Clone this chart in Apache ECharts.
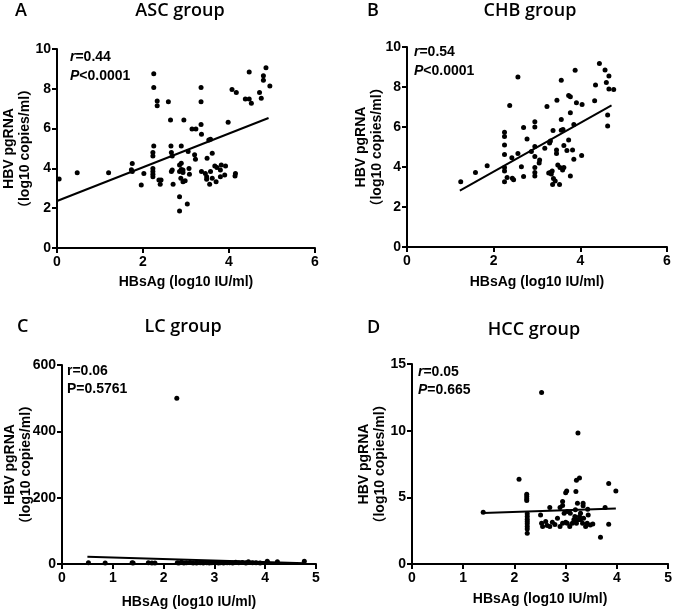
<!DOCTYPE html>
<html>
<head>
<meta charset="utf-8">
<script src="https://cdn.jsdelivr.net/npm/echarts@6/dist/echarts.min.js"></script>
<style>
html,body{margin:0;padding:0;background:#fff;}
#main{width:675px;height:613px;}
</style>
</head>
<body>
<div id="main"></div>
<script>
// ---------- DATA ----------
const panelTitles = ['ASC group', 'CHB group', 'LC group', 'HCC group'];
const panelLetters = ['A', 'B', 'C', 'D'];
const xAxisName = 'HBsAg (log10 IU/ml)';
const yAxisName = 'HBV pgRNA\n（log10 copies/ml）';
const statR = ['0.44', '0.54', '0.06', '0.05'];
const statP = ['<0.0001', '<0.0001', '=0.5761', '=0.665'];

const xMaxes = [6, 6, 5, 5];
const xIntervals = [2, 2, 1, 1];
const yMaxes = [10, 10, 600, 15];
const yIntervals = [2, 2, 200, 5];

const ascPoints = [[0.05,3.47],[0.47,3.78],[1.20,3.78],[1.73,3.93],[1.75,3.85],[1.75,4.25],[1.96,3.17],[2.02,3.75],
[2.25,8.76],[2.25,8.06],[2.33,7.39],[2.33,7.15],[2.25,5.12],[2.23,4.80],[2.23,4.62],[2.23,4.00],[2.23,3.84],[2.23,3.70],[2.23,3.58],
[2.37,3.42],[2.42,3.42],[2.40,3.20],[2.59,7.35],[2.64,6.43],[2.65,5.12],[2.66,4.80],[2.68,4.62],[2.68,3.92],[2.66,3.84],[2.70,3.20],
[2.89,5.12],[2.89,4.26],[2.85,4.17],[2.85,3.84],[2.89,3.95],[2.93,3.92],[2.93,3.79],[2.95,6.43],[3.05,4.85],[3.07,4.00],[3.08,3.70],
[2.88,3.50],[2.93,3.33],[2.98,3.38],[2.85,2.58],[3.03,2.21],[2.85,1.86],[3.14,5.98],[3.23,5.98],[3.20,4.68],[3.22,4.46],
[3.35,8.06],[3.35,7.35],[3.35,6.20],[3.36,5.71],[3.36,3.84],[3.45,3.75],[3.49,4.51],[3.61,4.76],[3.48,3.58],[3.48,3.45],
[3.53,5.43],[3.57,5.46],[3.57,3.84],[3.55,3.20],[3.67,4.12],[3.72,4.05],[3.82,4.17],[3.92,4.12],[3.61,3.50],[3.70,3.33],
[3.80,3.92],[3.80,3.58],[3.90,3.67],[4.15,3.75],[4.14,3.62],[3.98,6.32],[4.07,7.97],[4.17,7.82],[4.47,8.84],[4.38,7.49],
[4.47,7.49],[4.52,7.27],[4.71,7.82],[4.75,7.52],[4.80,8.66],[4.80,8.43],[4.86,9.06],[4.95,8.14]];
const ascFit = [[0,2.36],[4.92,6.53]];

const chbPoints = [[1.24,3.26],[1.58,3.73],[1.85,4.06],[2.25,5.74],[2.25,5.53],[2.25,5.10],[2.25,4.62],[2.25,3.97],[2.25,3.80],
[2.25,3.26],[2.31,3.47],[2.43,3.44],[2.46,3.36],[2.37,7.07],[2.42,4.46],[2.56,4.68],[2.56,8.50],[2.64,4.01],[2.69,3.52],
[2.69,5.97],[2.77,5.40],[2.87,4.77],[2.95,6.26],[2.95,6.00],[2.95,5.02],[2.95,4.52],[2.95,3.97],[2.95,3.72],[2.95,3.55],
[3.06,4.35],[3.05,4.20],[3.18,4.94],[3.23,7.02],[3.29,5.20],[3.31,5.30],[3.27,3.70],[3.31,3.73],[3.35,3.80],[3.33,3.65],
[3.38,3.43],[3.42,3.30],[3.36,3.13],[3.52,3.13],[3.37,5.82],[3.46,7.34],[3.45,4.85],[3.45,4.68],[3.56,6.38],[3.56,5.84],
[3.60,5.88],[3.62,5.08],[3.53,3.98],[3.59,3.85],[3.62,3.97],[3.48,4.10],[3.69,4.82],[3.73,7.58],[3.77,7.51],[3.77,6.71],
[3.73,5.35],[3.77,3.55],[3.82,4.85],[3.85,6.13],[3.85,4.39],[3.91,7.21],[4.04,7.13],[4.03,4.58],[4.33,7.31],[4.63,6.60],
[4.63,6.05],[3.56,8.34],[3.88,8.84],[4.35,8.10],[4.44,9.17],[4.57,8.85],[4.66,8.55],[4.60,8.22],[4.66,7.90],[4.77,7.87]];
const chbFit = [[1.22,2.82],[4.72,7.08]];

const lcPoints = [[0.52,3.5],[0.85,3.2],[1.38,3.8],[1.40,3.0],[1.70,3.6],[1.77,3.3],[1.83,2.9],[2.26,500],[2.27,4.1],[2.30,3.2],
[2.35,5.0],[2.40,2.8],[2.45,3.6],[2.52,4.2],[2.58,3.1],[2.65,2.9],[2.72,3.7],[2.78,3.3],[2.85,4.0],[2.90,2.7],[2.95,3.4],
[3.02,4.5],[3.08,3.0],[3.12,3.8],[3.18,2.9],[3.25,3.5],[3.30,4.1],[3.36,3.2],[3.42,5.2],[3.48,3.6],[3.55,4.3],[3.62,3.0],
[3.67,6.5],[3.75,3.4],[3.82,4.0],[3.90,3.1],[4.04,8.0],[4.05,4.2],[4.24,6.5],[4.77,8.5]];
const lcFit = [[0.5,22],[4.78,2]];

const hccPoints = [[1.39,3.88],[2.09,6.36],[2.53,12.87],[2.24,5.24],[2.24,5.06],[2.24,4.89],[2.24,4.76],[2.25,3.76],[2.25,3.56],
[2.25,3.36],[2.25,3.18],[2.25,3.01],[2.25,2.81],[2.25,2.63],[2.25,2.30],[3.24,9.82],[3.21,6.28],[3.27,6.45],[3.00,5.35],
[3.02,5.48],[3.20,5.43],[3.84,6.03],[3.98,5.48],[3.23,4.55],[3.34,4.55],[3.34,4.36],[2.94,4.68],[2.94,4.38],[2.69,4.24],
[2.89,4.23],[3.77,4.24],[2.51,3.68],[2.53,3.06],[2.55,2.81],[2.61,3.18],[2.64,2.88],[2.69,2.81],[2.74,3.13],[2.79,2.96],
[2.84,3.43],[2.89,2.81],[2.94,3.06],[3.00,3.13],[3.03,3.06],[3.08,2.81],[3.13,3.06],[3.16,3.31],[3.18,3.56],[3.21,3.06],
[3.24,3.31],[3.27,3.56],[3.29,3.31],[3.33,3.06],[3.35,3.43],[3.39,2.81],[3.42,3.06],[3.44,3.68],[3.48,2.93],[3.53,3.00],
[3.03,3.93],[2.97,3.81],[3.09,3.81],[3.19,4.06],[3.29,3.81],[3.43,4.11],[3.68,2.00],[3.84,2.99]];
const hccFit = [[1.39,3.82],[3.98,4.17]];

const allPoints = [ascPoints, chbPoints, lcPoints, hccPoints];
const allFits = [ascFit, chbFit, lcFit, hccFit];

// ---------- LAYOUT / STYLE ----------
const FA = '"Liberation Sans", Arial, "Noto Sans CJK SC", sans-serif';
const FT = '"Open Sans", "Noto Sans", sans-serif';
const grids = [
  {left: 57, top: 49, width: 258, height: 199},
  {left: 407, top: 47, width: 260, height: 200},
  {left: 62, top: 365, width: 254, height: 199},
  {left: 412, top: 364, width: 258, height: 200}
];
const xNameGaps = [26, 27, 30, 27];
const yNameGaps = [24, 22, 28, 24];
const italicRP = [true, true, false, true];
const titlePos = [[180, 11], [530, 11], [183, 327], [534, 330]];
const letterPos = [[15, 11], [367, 11], [17, 327], [367, 328]];
const statPos = [[70, 57, 76], [414, 52, 71], [67, 371, 389], [418, 372, 390]];

const axisBase = {
  axisLine: {show: true, onZero: false, lineStyle: {color: '#000', width: 2}},
  axisTick: {show: true, length: 5, lineStyle: {color: '#000', width: 2}},
  splitLine: {show: false},
  nameMoveOverlap: false,
  nameTextStyle: {color: '#000', fontSize: 14, fontWeight: 'bold', fontFamily: FA, lineHeight: 16}
};

const xAxes = [], yAxes = [], series = [], graphics = [];
for (let i = 0; i < 4; i++) {
  xAxes.push(Object.assign({}, axisBase, {
    type: 'value', gridIndex: i, min: 0, max: xMaxes[i], interval: xIntervals[i],
    name: xAxisName, nameLocation: 'middle', nameGap: xNameGaps[i],
    axisLabel: {color: '#000', fontSize: 14, fontWeight: 'bold', fontFamily: FA, margin: 7}
  }));
  yAxes.push(Object.assign({}, axisBase, {
    type: 'value', gridIndex: i, min: 0, max: yMaxes[i], interval: yIntervals[i],
    name: yAxisName, nameLocation: 'middle', nameGap: yNameGaps[i], nameRotate: 90,
    axisLabel: {color: '#000', fontSize: 14, fontWeight: 'bold', fontFamily: FA, margin: 6}
  }));
  series.push({
    type: 'scatter', xAxisIndex: i, yAxisIndex: i, data: allPoints[i],
    symbol: 'circle', symbolSize: 5, itemStyle: {color: '#000', opacity: 1}, silent: true
  });
  series.push({
    type: 'line', xAxisIndex: i, yAxisIndex: i, data: allFits[i],
    symbol: 'none', lineStyle: {color: '#000', width: 2}, silent: true
  });
  graphics.push({type: 'text', x: titlePos[i][0], y: titlePos[i][1],
    style: {text: panelTitles[i], fontFamily: FT, fontSize: 18, fontWeight: 600, fill: '#000', align: 'center', verticalAlign: 'middle'}});
  graphics.push({type: 'text', x: letterPos[i][0], y: letterPos[i][1],
    style: {text: panelLetters[i], fontFamily: FT, fontSize: 18, fontWeight: 600, fill: '#000', align: 'left', verticalAlign: 'middle'}});
  const rich = {i: {fontStyle: 'italic', fontSize: 14, fontWeight: 'bold', fontFamily: FA, fill: '#000'},
                n: {fontSize: 14, fontWeight: 'bold', fontFamily: FA, fill: '#000'}};
  const rT = italicRP[i] ? '{i|r}{n|=' + statR[i] + '}' : '{n|r=' + statR[i] + '}';
  const pT = italicRP[i] ? '{i|P}{n|' + statP[i] + '}' : '{n|P' + statP[i] + '}';
  graphics.push({type: 'text', x: statPos[i][0], y: statPos[i][1],
    style: {text: rT, rich: rich, fontSize: 14, fontWeight: 'bold', fontFamily: FA, fill: '#000', align: 'left', verticalAlign: 'middle'}});
  graphics.push({type: 'text', x: statPos[i][0], y: statPos[i][2],
    style: {text: pT, rich: rich, fontSize: 14, fontWeight: 'bold', fontFamily: FA, fill: '#000', align: 'left', verticalAlign: 'middle'}});
}

const chart = echarts.init(document.getElementById('main'), null, {renderer: 'canvas'});
chart.setOption({
  backgroundColor: '#fff',
  animation: false,
  grid: grids,
  xAxis: xAxes,
  yAxis: yAxes,
  series: series,
  graphic: graphics
});
</script>
</body>
</html>
